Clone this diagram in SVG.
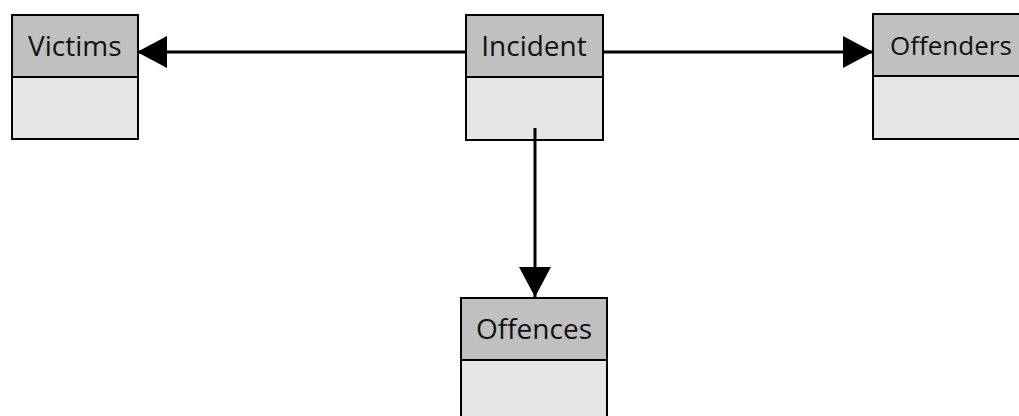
<svg xmlns="http://www.w3.org/2000/svg" width="1019" height="416" viewBox="0 0 1019 416">
<style>
.hd{fill:#C0C0C0;stroke:#000;stroke-width:2}
.bd{fill:#E6E6E6;stroke:#000;stroke-width:2}
.lb{font-family:"Open Sans","Noto Sans",sans-serif;font-size:28px;fill:#111}
.cn{stroke:#000;stroke-width:3;fill:none}
</style>
<defs>
<marker id="ah" markerUnits="userSpaceOnUse" markerWidth="30" markerHeight="32" viewBox="0 0 30 32" refX="30" refY="16" orient="auto">
<path d="M0,0 L30,16 L0,32 Z" fill="#000"/>
</marker>
</defs>
<g id="victims">
<rect class="bd" x="12" y="77" width="126" height="62"/>
<rect class="hd" x="12" y="15" width="126" height="62"/>
<text class="lb" x="28" y="56">Victims</text>
</g>
<g id="incident">
<rect class="bd" x="466" y="77" width="137" height="63"/>
<rect class="hd" x="466" y="15" width="137" height="62"/>
<text class="lb" x="534" y="56" text-anchor="middle">Incident</text>
</g>
<g id="offenders">
<rect class="bd" x="873" y="76" width="150" height="63"/>
<rect class="hd" x="873" y="14" width="150" height="62"/>
<text class="lb" x="890" y="55" style="font-size:26px">Offenders</text>
</g>
<g id="offences">
<rect class="bd" x="461" y="360" width="146" height="70"/>
<rect class="hd" x="461" y="298" width="146" height="62"/>
<text class="lb" x="534" y="339" text-anchor="middle">Offences</text>
</g>
<g id="connectors">
<line class="cn" x1="466" y1="52" x2="137" y2="52" marker-end="url(#ah)"/>
<line class="cn" x1="603" y1="52" x2="873" y2="52" marker-end="url(#ah)"/>
<line class="cn" x1="535" y1="128" x2="535" y2="297" marker-end="url(#ah)"/>
</g>
</svg>
